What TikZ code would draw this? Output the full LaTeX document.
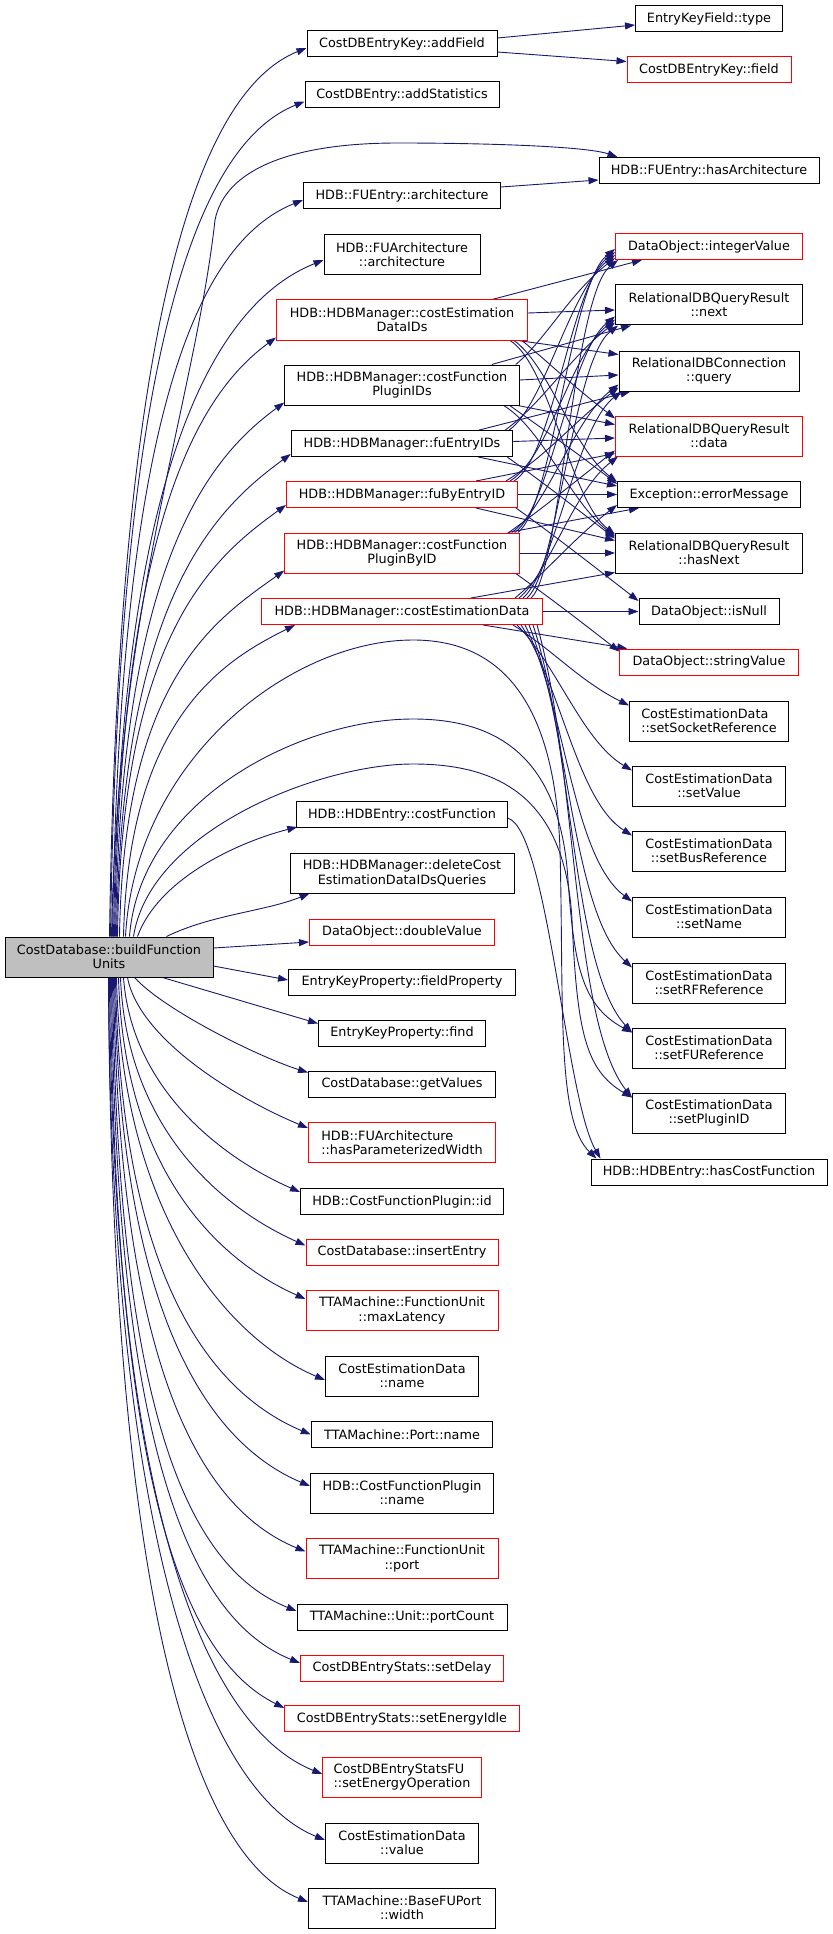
\documentclass[tikz,border=0pt]{standalone}
\usepackage{fontspec}
\newfontfamily\gfont{DejaVu Sans}
\usetikzlibrary{arrows.meta}
\definecolor{edgecol}{HTML}{191970}
\definecolor{rootfill}{HTML}{BFBFBF}
\newcommand{\gf}{\gfont\fontsize{12.8}{14.2}\selectfont}
\pgfdeclarelayer{bg}
\pgfdeclarelayer{paper}
\pgfsetlayers{paper,bg,main}
\tikzset{
 bx/.style={draw=black, fill=white, line width=1pt, inner sep=0pt, align=center, minimum height=26pt, font=\gf},
 rbx/.style={bx, draw=red},
 tw/.style={minimum height=40pt},
 ed/.style={draw=edgecol, line width=0.9pt, -{Triangle[length=10pt,width=7pt]}},
}
\begin{document}
\begin{tikzpicture}[x=1pt,y=-1pt]
\begin{pgfonlayer}{paper}
\fill[white] (0,0) rectangle (832,1934);
\end{pgfonlayer}
\useasboundingbox (0,0) rectangle (832,1934);
% root
\node[bx, tw, fill=rootfill, minimum width=208pt] (root) at (109,957) {CostDatabase::buildFunction\\Units};
% middle column
\node[bx, minimum width=190pt] (m1) at (402,44) {CostDBEntryKey::addField};
\node[bx, minimum width=194pt] (m2) at (402,94.5) {CostDBEntry::addStatistics};
\node[bx, minimum width=197pt] (m3) at (402,196) {HDB::FUEntry::architecture};
\node[bx, tw, minimum width=156pt] (m4) at (402,255) {HDB::FUArchitecture\\::architecture};
\node[rbx, tw, minimum width=251pt] (m5) at (402,320) {HDB::HDBManager::costEstimation\\DataIDs};
\node[bx, tw, minimum width=234.5pt] (m6) at (402,385) {HDB::HDBManager::costFunction\\PluginIDs};
\node[bx, minimum width=221.5pt] (m7) at (402,443.5) {HDB::HDBManager::fuEntryIDs};
\node[rbx, minimum width=231pt] (m8) at (402,494.5) {HDB::HDBManager::fuByEntryID};
\node[rbx, tw, minimum width=234.5pt] (m9) at (402,553) {HDB::HDBManager::costFunction\\PluginByID};
\node[rbx, minimum width=281pt] (m10) at (402,611.5) {HDB::HDBManager::costEstimationData};
\node[bx, minimum width=210.5pt] (m11) at (402,814.5) {HDB::HDBEntry::costFunction};
\node[bx, tw, minimum width=224pt] (m12) at (402,873) {HDB::HDBManager::deleteCost\\EstimationDataIDsQueries};
\node[rbx, minimum width=185pt] (m13) at (402,932) {DataObject::doubleValue};
\node[bx, minimum width=227pt] (m14) at (402,982) {EntryKeyProperty::fieldProperty};
\node[bx, minimum width=167pt] (m15) at (402,1033) {EntryKeyProperty::find};
\node[bx, minimum width=187pt] (m16) at (402,1084) {CostDatabase::getValues};
\node[rbx, tw, minimum width=187pt, align=left] (m17) at (402,1142.5) {HDB::FUArchitecture\\::hasParameterizedWidth};
\node[bx, minimum width=203pt] (m18) at (402,1201.5) {HDB::CostFunctionPlugin::id};
\node[rbx, minimum width=192pt] (m19) at (402,1252) {CostDatabase::insertEntry};
\node[rbx, tw, minimum width=192pt] (m20) at (402,1310.5) {TTAMachine::FunctionUnit\\::maxLatency};
\node[bx, tw, minimum width=153pt] (m21) at (402,1376) {CostEstimationData\\::name};
\node[bx, minimum width=181.5pt] (m22) at (402,1434.5) {TTAMachine::Port::name};
\node[bx, tw, minimum width=183pt] (m23) at (402,1493) {HDB::CostFunctionPlugin\\::name};
\node[rbx, tw, minimum width=192pt] (m24) at (402,1558.5) {TTAMachine::FunctionUnit\\::port};
\node[bx, minimum width=210pt] (m25) at (402,1617) {TTAMachine::Unit::portCount};
\node[rbx, minimum width=203pt] (m26) at (402,1668) {CostDBEntryStats::setDelay};
\node[rbx, minimum width=234.5pt] (m27) at (402,1718.5) {CostDBEntryStats::setEnergyIdle};
\node[rbx, tw, minimum width=158.5pt, align=left] (m28) at (402,1777) {CostDBEntryStatsFU\\::setEnergyOperation};
\node[bx, tw, minimum width=153pt] (m29) at (402,1843) {CostEstimationData\\::value};
\node[bx, tw, minimum width=187pt] (m30) at (402,1908) {TTAMachine::BaseFUPort\\::width};
% right column
\node[bx, minimum width=147pt] (r1) at (709,18.5) {EntryKeyField::type};
\node[rbx, minimum width=164pt] (r2) at (709,69.5) {CostDBEntryKey::field};
\node[bx, minimum width=220pt] (r3) at (709,170.5) {HDB::FUEntry::hasArchitecture};
\node[rbx, minimum width=187pt] (r4) at (709,246.5) {DataObject::integerValue};
\node[bx, tw, minimum width=187pt] (r5) at (709,305) {RelationalDBQueryResult\\::next};
\node[bx, tw, minimum width=180pt] (r6) at (709,371) {RelationalDBConnection\\::query};
\node[rbx, tw, minimum width=187pt] (r7) at (709,436) {RelationalDBQueryResult\\::data};
\node[bx, minimum width=183pt] (r8) at (709,494.5) {Exception::errorMessage};
\node[bx, tw, minimum width=187pt] (r9) at (709,553) {RelationalDBQueryResult\\::hasNext};
\node[bx, minimum width=140pt] (r10) at (709,611.5) {DataObject::isNull};
\node[rbx, minimum width=178.5pt] (r11) at (709,662) {DataObject::stringValue};
\node[bx, tw, minimum width=159pt, align=left] (r12) at (709,721) {CostEstimationData\\::setSocketReference};
\node[bx, tw, minimum width=153pt] (r13) at (709,786) {CostEstimationData\\::setValue};
\node[bx, tw, minimum width=153pt] (r14) at (709,851) {CostEstimationData\\::setBusReference};
\node[bx, tw, minimum width=153pt] (r15) at (709,917) {CostEstimationData\\::setName};
\node[bx, tw, minimum width=153pt] (r16) at (709,983) {CostEstimationData\\::setRFReference};
\node[bx, tw, minimum width=153pt] (r17) at (709,1048) {CostEstimationData\\::setFUReference};
\node[bx, tw, minimum width=153pt] (r18) at (709,1113) {CostEstimationData\\::setPluginID};
\node[bx, minimum width=236pt] (r19) at (709,1172) {HDB::HDBEntry::hasCostFunction};

\begin{pgfonlayer}{bg}
% root upward edges
\draw[ed] ([xshift=105pt]root.north west) .. controls +(9,-622) and +(-107,43) .. ([yshift=-4pt]m1.west);
\draw[ed] ([xshift=106pt]root.north west) .. controls +(8,-585) and +(-107,43) .. ([yshift=-7pt]m2.west);
\draw[ed] ([xshift=107pt]root.north west) .. controls (118,600) and (195,400) .. (215,220) .. controls (225,170) and (290,143) .. (398,143) .. controls (480,143) and (585,146) .. ([xshift=19pt]r3.north west);
\draw[ed] ([xshift=108pt]root.north west) .. controls +(7,-516) and +(-107,43) .. ([yshift=-4pt]m3.west);
\draw[ed] ([xshift=109pt]root.north west) .. controls +(7,-474) and +(-107,43) .. ([yshift=-5pt]m4.west);
\draw[ed] ([xshift=110pt]root.north west) .. controls +(6,-420) and +(-75,55) .. ([yshift=3pt]m5.south west);
\draw[ed] ([xshift=111pt]root.north west) .. controls +(5,-375) and +(-75,55) .. ([yshift=3pt]m6.south west);
\draw[ed] ([xshift=112pt]root.north west) .. controls +(5,-340) and +(-75,55) .. ([yshift=3pt]m7.south west);
\draw[ed] ([xshift=113pt]root.north west) .. controls +(4,-304) and +(-72,52) .. ([yshift=3pt]m8.south west);
\draw[ed] ([xshift=115pt]root.north west) .. controls +(4,-257) and +(-70,50) .. ([yshift=3pt]m9.south west);
\draw[ed] ([xshift=119pt]root.north west) .. controls +(5,-220) and +(-70,35) .. ([xshift=34pt]m10.south west);
\draw[ed] ([xshift=121pt]root.north west) .. controls (135,760) and (290,640) .. (413,640) .. controls (500,640) and (555,700) .. (560,850) .. controls (564,1000) and (556,1120) .. ([xshift=6pt]r19.north west);
\draw[ed] ([xshift=125pt]root.north west) .. controls (140,800) and (300,719) .. (413,719) .. controls (490,719) and (560,750) .. (568,880) .. controls (574,960) and (580,1005) .. ([yshift=-5pt]r17.north west);
\draw[ed] ([xshift=129pt]root.north west) .. controls (150,830) and (320,764) .. (413,764) .. controls (490,764) and (565,790) .. (572,920) .. controls (577,1030) and (585,1070) .. ([yshift=-5pt]r18.north west);
\draw[ed] ([xshift=133pt]root.north west) .. controls +(22,-60) and +(-55,14) .. ([xshift=1pt,yshift=1pt]m11.south west);
\draw[ed] ([xshift=162pt]root.north west) .. controls +(45,-22) and +(-45,18) .. ([xshift=20pt]m12.south west);
\draw[ed] ([yshift=9pt]root.east) -- ([yshift=-10pt]m13.west);
\draw[ed] ([yshift=-9pt]root.east) -- ([yshift=2pt]m14.west);
% root downward edges
\draw[ed] ([xshift=158pt]root.south west) -- ([yshift=-4pt]m15.north west);
\draw[ed] ([xshift=130pt]root.south west) .. controls +(30,33) and +(-48,-15) .. ([yshift=-2pt]m16.north west);
\draw[ed] ([xshift=123pt]root.south west) .. controls +(12,63) and +(-68,-28) .. ([yshift=-6pt]m17.north west);
\draw[ed] ([xshift=119pt]root.south west) .. controls +(8,110) and +(-80,-35) .. ([yshift=-4pt]m18.north west);
\draw[ed] ([xshift=116pt]root.south west) .. controls +(6,150) and +(-85,-38) .. ([yshift=-7pt]m19.north west);
\draw[ed] ([xshift=114pt]root.south west) .. controls +(5,190) and +(-90,-40) .. ([yshift=-9pt]m20.north west);
\draw[ed] ([xshift=112pt]root.south west) .. controls +(5,240) and +(-95,-40) .. ([yshift=-4pt]m21.west);
\draw[ed] ([xshift=111pt]root.south west) .. controls +(5,300) and +(-100,-42) .. (m22.west);
\draw[ed] ([xshift=110pt]root.south west) .. controls +(5,340) and +(-100,-42) .. ([yshift=7pt]m23.west);
\draw[ed] ([xshift=109pt]root.south west) .. controls +(5,390) and +(-105,-43) .. ([yshift=7pt]m24.west);
\draw[ed] ([xshift=108pt]root.south west) .. controls +(5,440) and +(-107,-43) .. ([yshift=6pt]m25.west);
\draw[ed] ([xshift=107pt]root.south west) .. controls +(4,480) and +(-107,-43) .. ([yshift=5pt]m26.west);
\draw[ed] ([xshift=106pt]root.south west) .. controls +(4,510) and +(-100,-50) .. ([yshift=-3pt]m27.north west);
\draw[ed] ([xshift=105pt]root.south west) .. controls +(3,560) and +(-107,-43) .. ([yshift=3pt]m28.west);
\draw[ed] ([xshift=104pt]root.south west) .. controls +(3,600) and +(-107,-43) .. ([yshift=3pt]m29.west);
\draw[ed] ([xshift=104pt]root.south west) .. controls +(3,650) and +(-107,-43) .. ([yshift=6pt]m30.west);
% second level
\draw[ed] ([yshift=6pt]m1.east) -- ([yshift=-6.5pt]r1.west);
\draw[ed] ([yshift=-8pt]m1.east) -- ([yshift=8pt]r2.west);
\draw[ed] ([yshift=9pt]m3.east) -- ([yshift=-9.5pt]r3.west);
% m5
\draw[ed] ([xshift=-36pt]m5.north east) -- ([xshift=27pt]r4.south west);
\draw[ed] ([yshift=7pt]m5.east) -- ([yshift=-5pt]r5.west);
\draw[ed] ([xshift=-10pt]m5.south east) -- ([yshift=-4pt]r6.north west);
\draw[ed] ([xshift=-6pt]m5.south east) .. controls +(30,25) and +(-45,-35) .. ([yshift=-3pt]r7.north west);
\draw[ed] ([xshift=-14pt]m5.south east) .. controls +(35,25) and +(-45,-35) .. ([yshift=-1pt]r8.north west);
\draw[ed] ([xshift=-18pt]m5.south east) .. controls +(40,25) and +(-45,-35) .. ([yshift=-2pt]r9.north west);
% m6
\draw[ed] ([xshift=-28pt]m6.north east) -- ([xshift=16pt]r5.south west);
\draw[ed] ([xshift=-4pt]m6.north east) .. controls +(30,-25) and +(-45,35) .. ([yshift=2pt]r4.south west);
\draw[ed] ([yshift=5pt]m6.east) -- ([yshift=-4pt]r6.west);
\draw[ed] ([xshift=-2pt]m6.south east) -- ([yshift=-9pt]r7.north west);
\draw[ed] ([xshift=-10pt]m6.south east) .. controls +(35,25) and +(-45,-35) .. ([yshift=-3pt]r8.north west);
\draw[ed] ([xshift=-16pt]m6.south east) .. controls +(40,25) and +(-45,-35) .. ([yshift=-4pt]r9.north west);
% m7
\draw[ed] ([xshift=-34pt]m7.north east) -- ([xshift=12pt]r6.south west);
\draw[ed] ([xshift=-4pt]m7.north east) .. controls +(35,-25) and +(-45,35) .. ([yshift=5pt]r4.south west);
\draw[ed] ([xshift=-8pt]m7.north east) .. controls +(35,-25) and +(-45,35) .. ([yshift=3pt]r5.south west);
\draw[ed] ([yshift=2pt]m7.east) -- ([yshift=-2pt]r7.west);
\draw[ed] ([xshift=-35pt]m7.south east) -- ([yshift=-5pt]r8.north west);
\draw[ed] ([xshift=-6pt]m7.south east) .. controls +(35,25) and +(-45,-35) .. ([yshift=-6pt]r9.north west);
% m8
\draw[ed] ([xshift=-42pt]m8.north east) -- ([yshift=3pt]r7.south west);
\draw[ed] ([xshift=-4pt]m8.north east) .. controls +(40,-25) and +(-45,35) .. ([yshift=8pt]r4.south west);
\draw[ed] ([xshift=-8pt]m8.north east) .. controls +(40,-25) and +(-45,35) .. ([yshift=6pt]r5.south west);
\draw[ed] ([xshift=-12pt]m8.north east) .. controls +(40,-25) and +(-45,35) .. ([yshift=4pt]r6.south west);
\draw[ed] (m8.east) -- (r8.west);
\draw[ed] ([xshift=-42pt]m8.south east) -- ([yshift=-8pt]r9.north west);
\draw[ed] ([xshift=-2pt]m8.south east) .. controls +(35,25) and +(-45,-35) .. ([yshift=-3pt]r10.north west);
% m9
\draw[ed] ([xshift=-12pt]m9.north east) -- ([xshift=22pt]r8.south west);
\draw[ed] ([xshift=-2pt]m9.north east) .. controls +(35,-25) and +(-45,35) .. ([yshift=11pt]r4.south west);
\draw[ed] ([xshift=-5pt]m9.north east) .. controls +(35,-25) and +(-45,35) .. ([yshift=9pt]r5.south west);
\draw[ed] ([xshift=-8pt]m9.north east) .. controls +(35,-25) and +(-45,35) .. ([yshift=7pt]r6.south west);
\draw[ed] ([xshift=-11pt]m9.north east) .. controls +(35,-25) and +(-45,35) .. ([yshift=6pt]r7.south west);
\draw[ed] (m9.east) -- (r9.west);
\draw[ed] ([xshift=-4pt]m9.south east) .. controls +(35,25) and +(-45,-35) .. ([yshift=-3pt]r11.north west);
% m10
\draw[ed] ([xshift=-72pt]m10.north east) -- ([yshift=1pt]r9.south west);
\draw[ed] ([xshift=-12pt]m10.north east) .. controls +(30,-25) and +(-45,35) .. ([xshift=3pt]r4.south west);
\draw[ed] ([xshift=-16pt]m10.north east) .. controls +(30,-25) and +(-45,35) .. ([xshift=3pt]r5.south west);
\draw[ed] ([xshift=-20pt]m10.north east) .. controls +(30,-25) and +(-45,35) .. ([xshift=3pt]r6.south west);
\draw[ed] ([xshift=-24pt]m10.north east) .. controls +(30,-25) and +(-45,35) .. ([xshift=3pt]r7.south west);
\draw[ed] ([xshift=-28pt]m10.north east) .. controls +(30,-25) and +(-45,35) .. ([yshift=3pt]r8.south west);
\draw[ed] (m10.east) -- (r10.west);
\draw[ed] ([xshift=-60pt]m10.south east) -- ([xshift=8pt]r11.north west);
\draw[ed] ([xshift=-30pt]m10.south east) .. controls +(40,25) and +(-50,-25) .. ([yshift=-5pt]r12.north west);
\draw[ed] ([xshift=-26pt]m10.south east) .. controls +(40,40) and +(-50,-30) .. ([yshift=-5pt]r13.north west);
\draw[ed] ([xshift=-22pt]m10.south east) .. controls +(40,60) and +(-55,-35) .. ([yshift=-5pt]r14.north west);
\draw[ed] ([xshift=-18pt]m10.south east) .. controls +(40,80) and +(-60,-45) .. ([yshift=-5pt]r15.north west);
\draw[ed] ([xshift=-14pt]m10.south east) .. controls +(40,100) and +(-60,-55) .. ([yshift=-5pt]r16.north west);
\draw[ed] ([xshift=-10pt]m10.south east) .. controls +(40,120) and +(-60,-65) .. ([yshift=-5pt]r17.north west);
\draw[ed] ([xshift=-6pt]m10.south east) .. controls +(40,140) and +(-60,-75) .. ([yshift=-5pt]r18.north west);
% costFunction
\draw[ed] ([yshift=-3.5pt]m11.east) .. controls +(40,12) and +(-35,-60) .. ([xshift=10pt]r19.north west);
\end{pgfonlayer}
\end{tikzpicture}
\end{document}
